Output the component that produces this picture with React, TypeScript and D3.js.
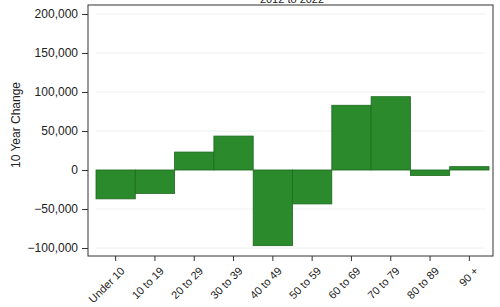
import React, { useEffect, useRef } from "react";
import * as d3 from "d3";

// age groups and the change over ten years
const ageGroups = ["Under 10", "10 to 19", "20 to 29", "30 to 39", "40 to 49", "50 to 59", "60 to 69", "70 to 79", "80 to 89", "90 +"];
const changes = [-37000, -30000, 23000, 43500, -97000, -43500, 83000, 94000, -7000, 4300];
const yTicks = [-100000, -50000, 0, 50000, 100000, 150000, 200000];
const title = "2012 to 2022";
const yLabel = "10 Year Change";

export default function App() {
    const ref = useRef<SVGSVGElement>(null);

    useEffect(() => {
        const width = 500, height = 307;
        const frame = { left: 88, right: 493, top: 5, bottom: 256 };
        const font = "Liberation Sans, Arial, sans-serif";

        const svg = d3.select(ref.current);
        svg.selectAll("*").remove();

        const x = d3.scaleBand<string>()
            .domain(ageGroups)
            .range([96, 489])
            .padding(0);

        const y = d3.scaleLinear()
            .domain([-100000, 200000])
            .range([248, 14]);

        // light grid lines
        svg.append("g")
            .selectAll("line")
            .data(yTicks)
            .join("line")
            .attr("x1", frame.left + 8)
            .attr("x2", frame.right - 8)
            .attr("y1", d => y(d))
            .attr("y2", d => y(d))
            .attr("stroke", "#eeeeee")
            .attr("stroke-width", 1);

        // bars
        svg.append("g")
            .selectAll("rect")
            .data(changes)
            .join("rect")
            .attr("x", (d, i) => x(ageGroups[i])!)
            .attr("width", x.bandwidth())
            .attr("y", d => y(Math.max(0, d)))
            .attr("height", d => Math.abs(y(d) - y(0)))
            .attr("fill", "#2a8a2c")
            .attr("stroke", "#1d6a20")
            .attr("stroke-width", 0.8);

        // frame
        svg.append("rect")
            .attr("x", frame.left)
            .attr("y", frame.top)
            .attr("width", frame.right - frame.left)
            .attr("height", frame.bottom - frame.top)
            .attr("fill", "none")
            .attr("stroke", "#333")
            .attr("stroke-width", 1);

        // y axis
        const yAxis = svg.append("g")
            .attr("transform", `translate(${frame.left},0)`)
            .call(d3.axisLeft(y).tickValues(yTicks).tickSize(6).tickPadding(4).tickFormat(d3.format(",")));
        yAxis.select(".domain").remove();
        yAxis.selectAll("text")
            .attr("font-family", font)
            .attr("font-size", 12)
            .attr("fill", "#222");
        yAxis.selectAll("line").attr("stroke", "#333");

        // x axis
        const xAxis = svg.append("g")
            .attr("transform", `translate(0,${frame.bottom})`)
            .call(d3.axisBottom(x).tickSize(5).tickPadding(2));
        xAxis.select(".domain").remove();
        xAxis.selectAll("line").attr("stroke", "#333");
        xAxis.selectAll("text")
            .attr("font-family", font)
            .attr("font-size", 11)
            .attr("fill", "#222")
            .attr("text-anchor", "end")
            .attr("dy", "0.35em")
            .attr("transform", "translate(2,8) rotate(-45)");

        // y label
        svg.append("text")
            .attr("transform", `translate(20,125) rotate(-90)`)
            .attr("text-anchor", "middle")
            .attr("font-family", font)
            .attr("font-size", 12)
            .attr("fill", "#222")
            .text(yLabel);

        // title, mostly above the top edge like the original
        svg.append("text")
            .attr("x", 292)
            .attr("y", 3)
            .attr("text-anchor", "middle")
            .attr("font-family", font)
            .attr("font-size", 11)
            .attr("fill", "#222")
            .text(title);

        svg.attr("width", width).attr("height", height);
    }, []);

    return (
        <svg ref={ref} width={500} height={307}
            style={{ position: "absolute", left: 0, top: 0, background: "#fff" }} />
    );
}
